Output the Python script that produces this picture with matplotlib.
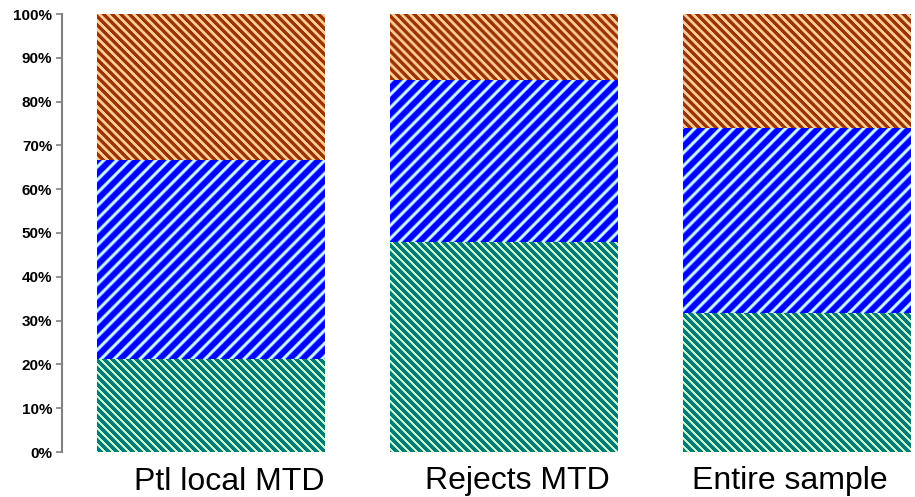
import numpy as np
import matplotlib.pyplot as plt
from matplotlib.colors import to_rgb
from matplotlib.transforms import ScaledTranslation

groups = ["Ptl local MTD", "Rejects MTD", "Entire sample"]
# shares in percent, bottom to top
teal_pct = [21.2, 47.9, 31.7]
blue_pct = [45.5, 37.0, 42.3]
brown_pct = [33.3, 15.1, 26.0]
yticks = [0, 10, 20, 30, 40, 50, 60, 70, 80, 90, 100]
label_shift_px = [18, 13, -7]

W, H = 915, 497
fig = plt.figure(figsize=(W / 100, H / 100), dpi=100)
ax = fig.add_axes([62 / W, 45 / H, (W - 62) / W, 438 / H])
xlim = (-0.5085, 2.403)
ax.set_xlim(*xlim)
ax.set_ylim(0, 100)

# pixels per data unit, used to lay stripe textures in screen space
ppx = (W - 62) / (xlim[1] - xlim[0])
ppy = 438 / 100.0


def stripes(patch, dark, light, period, frac, soft, rising):
    x0, y0 = patch.get_x(), patch.get_y()
    w, h = patch.get_width(), patch.get_height()
    nx = max(int(round(w * ppx)), 1)
    ny = max(int(round(h * ppy)), 1)
    # absolute pixel coordinates so neighbouring segments line up
    px = np.arange(nx) + x0 * ppx
    py = np.arange(ny) + (100 - y0 - h) * ppy
    X, Y = np.meshgrid(px, py)
    t = (X + Y) if rising else (X - Y)
    c = np.cos(2 * np.pi * t / period)
    thr = np.cos(np.pi * frac)
    f = np.clip((c - thr) / soft + 0.5, 0, 1)
    d, l = np.array(to_rgb(dark)), np.array(to_rgb(light))
    img = d + f[..., None] * (l - d)
    im = ax.imshow(img, extent=(x0, x0 + w, y0, y0 + h), origin="upper",
                   aspect="auto", interpolation="bilinear", zorder=2)
    im.set_clip_path(patch)


x = np.arange(len(groups))
width = 0.778
bottom2 = np.array(teal_pct) + np.array(blue_pct)

b1 = ax.bar(x, teal_pct, width, color="#008080", linewidth=0)
b2 = ax.bar(x, blue_pct, width, bottom=teal_pct, color="#0000ff", linewidth=0)
b3 = ax.bar(x, brown_pct, width, bottom=bottom2, color="#993300", linewidth=0)

for p in b1:
    stripes(p, "#007a78", "#ccffcc", 8.0, 0.36, 0.6, False)
for p in b2:
    stripes(p, "#0000ff", "#ccffff", 13.0, 0.34, 0.9, True)
for p in b3:
    stripes(p, "#993300", "#ffcc99", 8.6, 0.45, 0.7, False)

ax.set_xlim(*xlim)
ax.set_ylim(0, 100)

ax.set_yticks(yticks)
ax.set_yticklabels([f"{v}%" for v in yticks], fontsize=11, fontweight="bold",
                   family="Liberation Sans")
ax.set_xticks(x)
ax.set_xticklabels(groups, fontsize=23, family="Liberation Sans")
ax.tick_params(axis="x", length=0, pad=9)
ax.tick_params(axis="y", length=4, width=1.2, color="#808080", pad=3)
for lab, dx in zip(ax.get_xticklabels(), label_shift_px):
    lab.set_transform(lab.get_transform() +
                      ScaledTranslation(dx / 100, -2 / 100, fig.dpi_scale_trans))

for s in ["top", "right", "bottom"]:
    ax.spines[s].set_visible(False)
ax.spines["left"].set_color("#808080")
ax.spines["left"].set_linewidth(1.5)

fig.savefig("out.png", dpi=100)
